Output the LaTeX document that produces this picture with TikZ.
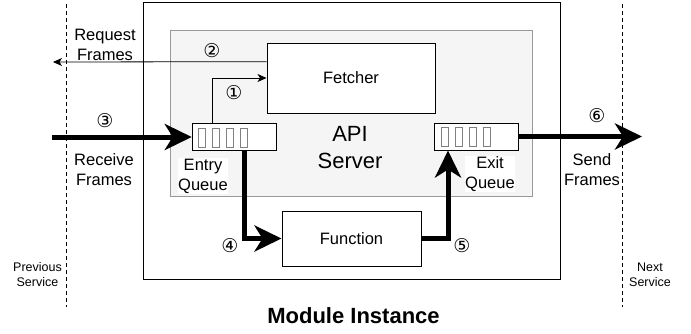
\documentclass[tikz,border=0pt]{standalone}
\usepackage{fontspec}
\setmainfont{Liberation Sans}
\newfontfamily\circfont{DejaVu Sans}
\usetikzlibrary{arrows.meta,calc}
\definecolor{apifill}{HTML}{F5F5F5}
\definecolor{apiline}{HTML}{999999}
\definecolor{slotline}{HTML}{808080}
\begin{document}
\begin{tikzpicture}[x=1pt,y=-1pt,
  txt/.style={font=\fontsize{16.5}{20}\selectfont, align=center, inner sep=0.5pt},
  num/.style={font=\circfont\fontsize{19}{19}\selectfont, inner sep=0pt},
  small/.style={font=\fontsize{12.5}{15}\selectfont, align=center, inner sep=0pt},
  box/.style={draw=black, line width=1pt, fill=white, inner sep=0pt, font=\fontsize{16.5}{20}\selectfont},
  queue/.style={draw=black, line width=1pt, fill=white, inner sep=0pt, minimum width=84pt, minimum height=27pt},
  slot/.style={draw=slotline, line width=1.3pt, inner sep=0pt, minimum width=7pt, minimum height=19pt},
  thinarrow/.style={draw=black, line width=0.8pt, -{Stealth[length=9pt,width=8pt,inset=2.5pt]}},
  thickarrow/.style={draw=black, line width=5pt, -{Stealth[length=27pt,width=26pt,inset=8pt]}},
  sepline/.style={draw=black, line width=1pt, dash pattern=on 4pt off 3pt}
]
\useasboundingbox (0,0) rectangle (691,333);

% service separators
\coordinate (ptop) at (66,4);
\coordinate (pbot) at (66,307);
\coordinate (ntop) at (622,4);
\coordinate (nbot) at (622,307);
\draw[sepline] (ptop) -- (pbot);
\draw[sepline] (ntop) -- (nbot);

% module and api server boxes
\node[draw=black, line width=1pt, inner sep=0pt, minimum width=417pt, minimum height=277pt] (module) at (351.5,140.5) {};
\node[draw=apiline, fill=apifill, line width=1pt, inner sep=0pt, minimum width=362pt, minimum height=166pt] (api) at (351,113) {};
\node[font=\fontsize{22}{27}\selectfont, align=center, inner sep=0pt] (apilbl) at (350,148) {API\\Server};

\node[box, minimum width=168pt, minimum height=70pt] (fetch) at (351,78) {Fetcher};
\node[box, minimum width=139pt, minimum height=55pt] (func) at (351.5,238.5) {Function};

\node[queue] (entry) at (234.25,137) {};
\node[queue] (exit) at (476,136.5) {};
\foreach \i in {0,...,3} {
  \node[slot] (es\i) at ($(entry.west)+(10+14*\i,1)$) {};
  \node[slot] (xs\i) at ($(exit.west)+(11.5+14*\i,0.5)$) {};
}

\node[txt, fill=white] (entrylbl) at (203,176) {Entry\\Queue};
\node[txt, fill=white] (exitlbl) at (490,174) {Exit\\Queue};

% texts outside
\node[txt] (reqlbl) at (105,45) {Request\\Frames};
\node[txt] (reclbl) at (104,170) {Receive\\Frames};
\node[txt] (sendlbl) at (592,170) {Send\\Frames};
\node[small] (prevlbl) at (37.5,274.5) {Previous\\Service};
\node[small] (nextlbl) at (650,274.5) {Next\\Service};
\node[font=\bfseries\fontsize{22}{26}\selectfont, inner sep=0pt] (modlbl) at (353.5,316) {Module Instance};

% connectors
\coordinate (in3) at (52,137);
\coordinate (out6) at (642,136.5);
\coordinate (req2) at (53,62);
\draw[thinarrow] ($(entry.north west)+(20.5,0)$) |- (fetch.west);
\draw[thinarrow] ($(fetch.north west)!0.27!(fetch.south west)$) -- (req2);
\draw[thickarrow] (in3) -- (entry.west);
\draw[thickarrow] ($(entry.south west)+(53,0)$) |- (func.west);
\draw[thickarrow] (func.east) -| ($(exit.south west)+(14.5,0)$);
\draw[thickarrow] (exit.east) -- (out6);

% step numbers
\node[num] (n1) at (234,93) {①};
\node[num] (n2) at (212,51) {②};
\node[num] (n3) at (105,121) {③};
\node[num] (n4) at (230,246) {④};
\node[num] (n5) at (462,246) {⑤};
\node[num] (n6) at (597,116) {⑥};
\end{tikzpicture}
\end{document}
